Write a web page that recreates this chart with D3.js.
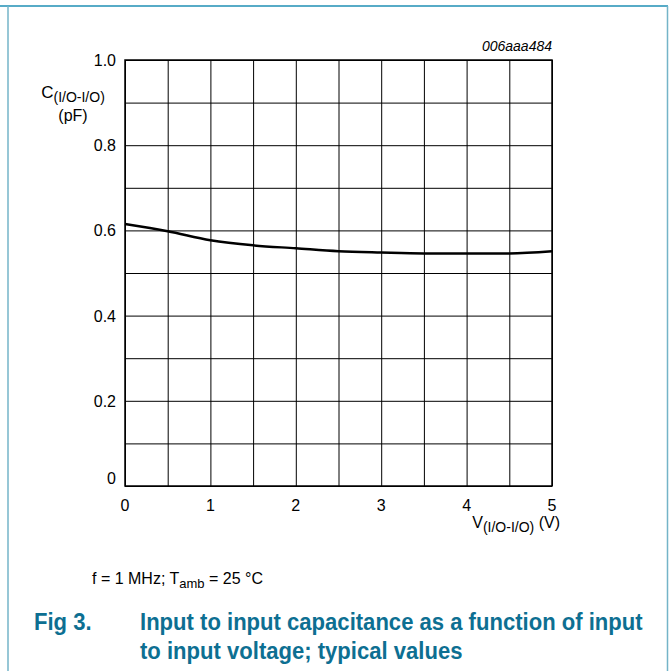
<!DOCTYPE html>
<html>
  <head>
    <meta charset="utf-8">
    <script src="https://d3js.org/d3.v7.min.js"></script>
    <title>Input to input capacitance</title>
    <style>
      body { margin: 0; background: #fff; }
      text { font-family: "Liberation Sans", Arial, sans-serif; }
    </style>
  </head>
  <body>
    <div id="plot"></div>
    <script>

    // data
    const voltage = [0, 0.5, 1, 1.5, 2, 2.5, 3, 3.5, 4, 4.5, 5];
    const capacitance = [0.615, 0.598, 0.577, 0.565, 0.558, 0.551, 0.548, 0.546, 0.546, 0.546, 0.551];
    const xTicks = [0, 1, 2, 3, 4, 5];
    const yTicks = [0, 0.2, 0.4, 0.6, 0.8, 1.0];
    const xGrid = d3.range(0, 5.01, 0.5);
    const yGrid = d3.range(0, 1.001, 0.1);

    const W = 670, H = 671;
    const plotL = 125, plotR = 552, plotT = 60, plotB = 486;

    const svg = d3.select("#plot")
      .append("svg")
        .attr("width", W)
        .attr("height", H);

    // frame around the figure
    svg.append("line")
      .attr("x1", 0).attr("x2", 668).attr("y1", 6).attr("y2", 6)
      .attr("stroke", "#1f8fb4").attr("stroke-width", 1.5);
    svg.append("line")
      .attr("x1", 8).attr("x2", 8).attr("y1", 6).attr("y2", H)
      .attr("stroke", "#74b4c8").attr("stroke-width", 1.5);
    svg.append("line")
      .attr("x1", 667.5).attr("x2", 667.5).attr("y1", 6).attr("y2", H)
      .attr("stroke", "#74b4c8").attr("stroke-width", 1.5);

    const x = d3.scaleLinear().domain([0, 5]).range([plotL, plotR]);
    const y = d3.scaleLinear().domain([0, 1]).range([plotB, plotT]);

    // grid
    svg.append("g")
      .attr("transform", "translate(0," + plotB + ")")
      .call(d3.axisBottom(x).tickValues(xGrid).tickSize(-(plotB - plotT)).tickFormat(""))
      .call(g => g.select(".domain").remove())
      .selectAll("line").attr("stroke", "#000").attr("stroke-width", 1);
    svg.append("g")
      .attr("transform", "translate(" + plotL + ",0)")
      .call(d3.axisLeft(y).tickValues(yGrid).tickSize(-(plotR - plotL)).tickFormat(""))
      .call(g => g.select(".domain").remove())
      .selectAll("line").attr("stroke", "#000").attr("stroke-width", 1);

    svg.append("rect")
      .attr("x", plotL).attr("y", plotT)
      .attr("width", plotR - plotL).attr("height", plotB - plotT)
      .attr("fill", "none").attr("stroke", "#000").attr("stroke-width", 1.5);

    // tick labels
    svg.selectAll(".xlab")
      .data(xTicks)
      .enter()
      .append("text")
        .attr("x", d => x(d))
        .attr("y", 511)
        .attr("text-anchor", "middle")
        .style("font-size", "16px")
        .text(d => d);

    svg.selectAll(".ylab")
      .data(yTicks)
      .enter()
      .append("text")
        .attr("x", 116)
        .attr("y", d => d === 0 ? y(d) - 2 : y(d) + 6)
        .attr("text-anchor", "end")
        .style("font-size", "16px")
        .text(d => d === 0 ? "0" : d3.format(".1f")(d));

    // curve
    const line = d3.line()
      .x((d, i) => x(voltage[i]))
      .y(d => y(d))
      .curve(d3.curveMonotoneX);
    svg.append("path")
      .datum(capacitance)
      .attr("d", line)
      .attr("fill", "none")
      .attr("stroke", "#000")
      .attr("stroke-width", 2.5);

    // axis labels
    const yl = svg.append("text")
      .attr("x", 73).attr("y", 98)
      .attr("text-anchor", "middle")
      .style("font-size", "17px");
    yl.append("tspan").text("C");
    yl.append("tspan").text("(I/O-I/O)").attr("dy", 4).style("font-size", "14px");
    svg.append("text")
      .attr("x", 73).attr("y", 121)
      .attr("text-anchor", "middle")
      .style("font-size", "16px")
      .text("(pF)");

    const xl = svg.append("text")
      .attr("x", 560).attr("y", 528)
      .attr("text-anchor", "end")
      .style("font-size", "16px");
    xl.append("tspan").text("V");
    xl.append("tspan").text("(I/O-I/O)").attr("dy", 4).style("font-size", "14px");
    xl.append("tspan").text(" (V)").attr("dy", -4);

    svg.append("text")
      .attr("x", plotR).attr("y", 51)
      .attr("text-anchor", "end")
      .style("font-size", "14px")
      .style("font-style", "italic")
      .text("006aaa484");

    // conditions
    const cond = svg.append("text")
      .attr("x", 92).attr("y", 584)
      .style("font-size", "16px");
    cond.append("tspan").text("f = 1 MHz; T");
    cond.append("tspan").text("amb").attr("dy", 4).style("font-size", "13px");
    cond.append("tspan").text(" = 25 \u00B0C").attr("dy", -4);

    // caption, slightly condensed
    const capColor = "#0d6f92";
    function caption(tx, ty, str) {
      svg.append("text")
        .attr("transform", "translate(" + tx + "," + ty + ") scale(0.92,1)")
        .style("font-size", "24px").style("font-weight", "bold")
        .attr("fill", capColor)
        .text(str);
    }
    caption(34, 630, "Fig 3.");
    caption(140, 630, "Input to input capacitance as a function of input");
    caption(140, 659, "to input voltage; typical values");

    </script>
  </body>
</html>
